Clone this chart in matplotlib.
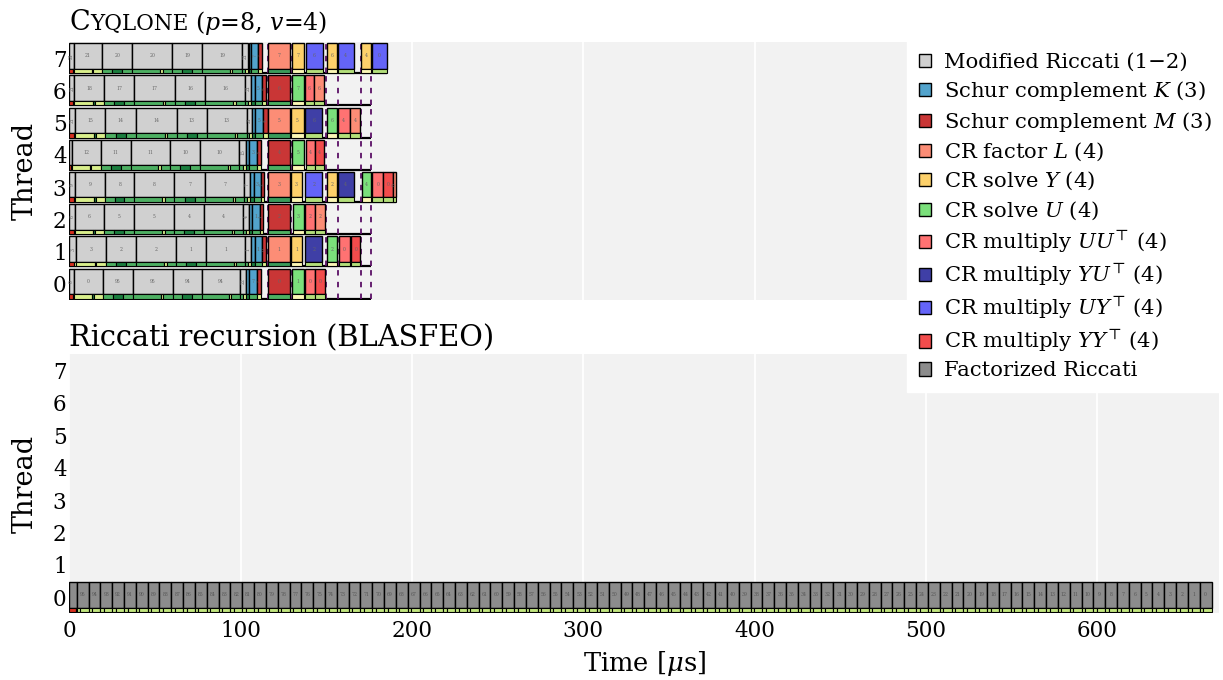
import matplotlib
matplotlib.use("Agg")
import matplotlib.pyplot as plt
from matplotlib.patches import Patch

plt.rcParams['font.family'] = ['DejaVu Serif']
plt.rcParams['mathtext.fontset'] = 'dejavuserif'

# ---------------- data ----------------
legend_labels = [
    "Modified Riccati (1\u22122)",
    "Schur complement $K$ (3)",
    "Schur complement $M$ (3)",
    "CR factor $L$ (4)",
    "CR solve $Y$ (4)",
    "CR solve $U$ (4)",
    "CR multiply $UU^{\\!\\top}$\u2009(4)",
    "CR multiply $YU^{\\!\\top}$\u2009(4)",
    "CR multiply $UY^{\\!\\top}$\u2009(4)",
    "CR multiply $YY^{\\!\\top}$\u2009(4)",
    "Factorized Riccati",
]
category_keys = ["MR", "SK", "SM", "CL", "CY", "CU", "UU", "YU", "UY", "YY", "FR"]
category_colors = ["#d0d0d0", "#52a3cc", "#c93636", "#fc8d76", "#fdd16b",
                   "#7be07b", "#ff7272", "#3f3fa6", "#6464f8", "#f24c4c", "#8c8c8c"]

# (start us, end us, category, label)
thread7_segments = [
    (0, 2.6, "MR", "21"), (2.6, 19.3, "MR", "21"), (19.3, 36.8, "MR", "20"), (36.8, 60.2, "MR", "20"),
    (60.2, 77.7, "MR", "19"), (77.7, 100.5, "MR", "19"), (100.5, 104.2, "MR", "21"),
    (104.7, 106.3, "SK", ""), (106.3, 110.0, "SK", "7"), (110.0, 112.4, "SM", "7"),
    (116.2, 128.5, "CL", "7"), (130.1, 136.9, "CY", "7"), (137.9, 148.0, "UY", "6"),
    (150.3, 156.2, "CY", "6"), (156.9, 165.9, "UY", "4"), (170.4, 176.2, "CY", "4"),
    (176.8, 185.4, "UY", "0"),
]
thread6_segments = [
    (0, 2.7, "MR", "21"), (2.7, 20.4, "MR", "18"), (20.4, 38.0, "MR", "17"), (38.0, 61.7, "MR", "17"),
    (61.7, 79.3, "MR", "16"), (79.3, 102.6, "MR", "16"), (102.6, 106.1, "MR", "21"),
    (106.1, 108.1, "SK", ""), (108.1, 112.6, "SK", "5"), (112.6, 114.9, "SM", "5"),
    (116.2, 128.5, "SM", "6"), (130.1, 136.9, "CU", "7"), (137.8, 142.7, "UU", "6"),
    (142.7, 148.9, "CL", "6"),
]
thread5_segments = [
    (0, 3.3, "MR", "21"), (3.3, 21.0, "MR", "15"), (21.0, 39.0, "MR", "14"), (39.0, 62.7, "MR", "14"),
    (62.7, 80.3, "MR", "13"), (80.3, 103.6, "MR", "13"), (103.6, 106.7, "MR", "21"),
    (106.7, 108.6, "SK", ""), (108.6, 113.3, "SK", "5"), (113.3, 115.9, "SM", "4"),
    (116.2, 128.5, "CL", "5"), (129.4, 136.9, "CY", "5"), (137.8, 147.6, "YU", "6"),
    (150.6, 156.4, "CU", "6"), (156.8, 163.6, "UU", "4"), (163.6, 169.8, "CL", "4"),
]
thread4_segments = [
    (0, 1.4, "MR", ""), (1.4, 18.3, "MR", "12"), (18.3, 35.9, "MR", "11"), (35.9, 58.8, "MR", "11"),
    (58.8, 76.3, "MR", "10"), (76.3, 99.3, "MR", "10"), (99.3, 103.2, "MR", "15"),
    (103.2, 105.1, "SK", ""), (105.1, 109.5, "SK", "3"), (109.5, 111.6, "SM", "3"),
    (116.2, 128.5, "SM", "4"), (130.1, 136.9, "CU", "5"), (138.1, 143.5, "UU", "4"),
    (143.5, 148.9, "YY", "4"),
]
thread3_segments = [
    (0, 3.3, "MR", "9"), (3.3, 20.9, "MR", "9"), (20.9, 38.0, "MR", "8"), (38.0, 61.3, "MR", "8"),
    (61.3, 79.3, "MR", "7"), (79.3, 102.2, "MR", "7"), (102.2, 105.5, "MR", "7"),
    (105.5, 107.5, "SK", ""), (107.5, 111.6, "SK", "3"), (111.6, 113.9, "SM", "2"),
    (116.2, 128.5, "CL", "3"), (129.4, 135.9, "CY", "3"), (137.8, 147.6, "UY", "2"),
    (150.3, 156.2, "CY", "2"), (156.9, 165.9, "YU", "4"), (170.8, 176.2, "CU", "4"),
    (176.9, 183.1, "UU", "0"), (183.1, 188.9, "YY", "0"), (188.9, 190.6, "CL", "0"),
]
thread2_segments = [
    (0, 3.3, "MR", "6"), (3.3, 20.3, "MR", "6"), (20.3, 38.0, "MR", "5"), (38.0, 61.3, "MR", "5"),
    (61.3, 78.7, "MR", "4"), (78.7, 101.6, "MR", "4"), (101.6, 104.8, "MR", "4"),
    (104.8, 106.7, "SK", ""), (106.7, 111.0, "SK", "1"), (111.0, 113.0, "SM", "1"),
    (116.2, 128.5, "SM", "2"), (130.6, 136.9, "CU", "3"), (137.8, 143.5, "UU", "2"),
    (143.5, 149.3, "CL", "2"),
]
thread1_segments = [
    (0, 3.9, "MR", "3"), (3.9, 21.4, "MR", "3"), (21.4, 39.0, "MR", "2"), (39.0, 62.3, "MR", "2"),
    (62.3, 79.8, "MR", "1"), (79.8, 102.8, "MR", "1"), (102.8, 106.1, "MR", "1"),
    (106.1, 108.1, "SK", ""), (108.1, 112.6, "SK", "1"), (112.6, 114.9, "SM", "0"),
    (116.2, 128.5, "CL", "1"), (129.4, 135.9, "CY", "1"), (137.8, 147.6, "YU", "2"),
    (150.6, 156.2, "CU", "2"), (157.1, 163.6, "UU", "0"), (164.5, 169.8, "YY", "0"),
]
thread0_segments = [
    (0, 2.7, "MR", "0"), (2.7, 19.5, "MR", "0"), (19.5, 37.0, "MR", "95"), (37.0, 60.4, "MR", "95"),
    (60.4, 77.3, "MR", "94"), (77.3, 99.7, "MR", "94"), (99.7, 103.2, "MR", "22"),
    (103.2, 105.1, "SK", ""), (105.1, 109.5, "SK", "7"), (109.5, 112.0, "SM", "7"),
    (116.2, 128.5, "SM", "0"), (130.0, 136.9, "CU", "1"), (137.8, 143.5, "UU", "0"),
    (143.5, 149.3, "YY", "0"),
]
thread_end_times = [176.2, 176.2, 176.2, 190.6, 176.2, 176.2, 176.2, 185.4]
barrier_times = [116.0, 129.2, 149.9, 156.7, 170.2, 176.2]

riccati_first_block = (0.0, 4.3)
riccati_durations = [
    6.9, 6.9, 6.9, 6.9, 6.9, 6.9, 6.9, 6.9, 6.9, 6.9, 6.9, 6.9, 6.9, 6.9, 6.9, 6.9,
    6.9, 6.9, 6.9, 6.9, 6.9, 6.9, 6.9, 6.9, 6.9, 6.9, 6.9, 6.9, 6.9, 6.9, 6.9, 6.9,
    6.9, 6.9, 6.9, 6.9, 6.9, 6.9, 6.9, 6.9, 6.9, 6.9, 6.9, 6.9, 6.9, 6.9, 6.9, 6.9,
    6.9, 6.9, 6.9, 6.9, 6.9, 6.9, 6.9, 6.9, 6.9, 6.9, 6.9, 6.9, 6.9, 6.9, 6.9, 6.9,
    6.9, 6.9, 6.9, 6.9, 6.9, 6.9, 6.9, 6.9, 6.9, 6.9, 6.9, 6.9, 6.9, 6.9, 6.9, 6.9,
    6.9, 6.9, 6.9, 6.9, 6.9, 6.9, 6.9, 6.9, 6.9, 6.9, 6.9, 6.9, 6.9, 6.9, 6.9, 6.9,
]
riccati_labels = [str(i) for i in range(95, -1, -1)]

x_ticks = [0, 100, 200, 300, 400, 500, 600]
threads = [0, 1, 2, 3, 4, 5, 6, 7]

# ---------------- styling ----------------
color_of = dict(zip(category_keys, category_colors))
strip_colors = {"red": "#d7301f", "pale": "#d9ef8b", "green": "#4daf62", "dark": "#1a7d3e",
                "yellow": "#fbf7b5", "light": "#b3df7a", "mid": "#3a9a5a", "rg": "#c2e67f"}
BG = "#f2f2f2"
MAIN_LO, MAIN_H = -0.32, 0.79
STRIP_LO, STRIP_H = -0.46, 0.14
LW = 1.0


def strip_pattern(cat, idx, dur):
    if cat == "MR":
        if idx == 0:
            return [(0, 0.75, "red"), (0.75, 1, "pale")]
        if idx == 1:
            return [(0, 0.62, "pale"), (0.62, 0.68, "dark"), (0.68, 1, "pale")]
        if idx in (2, 4):
            return [(0, 0.33, "green"), (0.33, 0.66, "dark"), (0.66, 1, "green")]
        if idx in (3, 5):
            return [(0, 0.7, "green"), (0.7, 0.76, "pale"), (0.76, 1, "green")]
        return [(0, 0.5, "green"), (0.5, 1, "pale")]
    if cat == "SK":
        return [(0, 1, "dark" if dur < 2.5 else "green")]
    if cat == "SM":
        return [(0, 1, "pale" if dur < 5 else "green")]
    if cat == "CL":
        return [(0, 1, "mid" if dur > 8 else "light")]
    if cat in ("CY", "CU"):
        return [(0, 1, "yellow")]
    return [(0, 1, "light")]


fig = plt.figure(figsize=(12.23, 6.8), dpi=100)
ax_top = fig.add_axes([0.0567, 0.559, 0.9400, 0.379])
ax_bot = fig.add_axes([0.0567, 0.098, 0.9400, 0.381])

for ax in (ax_top, ax_bot):
    ax.set_facecolor(BG)
    for s in ax.spines.values():
        s.set_visible(False)
    ax.set_xlim(0, 671)
    ax.set_ylim(-0.5, 7.5)
    ax.set_xticks(x_ticks)
    ax.set_yticks(threads)
    ax.set_yticklabels([str(t) for t in threads], fontsize=15.5)
    ax.tick_params(axis="both", length=0)
    ax.tick_params(axis="y", pad=2)
    ax.grid(axis="x", color="white", lw=1.3, zorder=0)
    ax.set_axisbelow(True)
    ax.set_ylabel("Thread", fontsize=19.5, labelpad=10)

ax_top.tick_params(axis="x", labelbottom=False)
ax_bot.tick_params(axis="x", labelsize=15.5, pad=5)
ax_bot.set_xlabel("Time [$\\mu$s]", fontsize=18.5, labelpad=5)


def draw_segment(ax, y, start, end, color, label, strips, lblcolor="#666666"):
    w = end - start
    ax.barh(y + MAIN_LO, w, left=start, height=MAIN_H, align="edge", color=color,
            edgecolor="black", linewidth=LW, zorder=3)
    for f0, f1, sc in strips:
        ax.barh(y + STRIP_LO, w * (f1 - f0), left=start + w * f0, height=STRIP_H, align="edge",
                color=strip_colors[sc], edgecolor="black", linewidth=LW * 0.8, zorder=3)
    if label:
        rot = 90 if w < 4 else 0
        ax.text(start + w / 2, y + MAIN_LO + MAIN_H / 2, label, fontsize=3.3, color=lblcolor,
                ha="center", va="center", rotation=rot, zorder=4)


all_threads = [thread0_segments, thread1_segments, thread2_segments, thread3_segments,
               thread4_segments, thread5_segments, thread6_segments, thread7_segments]

for th, segs in zip(threads, all_threads):
    end = thread_end_times[th]
    ax_top.hlines(th + STRIP_LO, 0, end, color="black", lw=1.6, zorder=2)
    ax_top.vlines(barrier_times, th + STRIP_LO, th + MAIN_LO + MAIN_H, colors="#5b0f66",
                  linestyles=(0, (3, 3.5)), lw=1.3, zorder=2)
    mr_idx = 0
    for (s, e, cat, lbl) in segs:
        idx = mr_idx if cat == "MR" else -1
        if cat == "MR":
            mr_idx += 1
        draw_segment(ax_top, th, s, e, color_of[cat], lbl, strip_pattern(cat, idx, e - s))

# bottom: factorized Riccati (sequential)
s0, e0 = riccati_first_block
draw_segment(ax_bot, 0, s0, e0, color_of["FR"], "", [(0, 0.9, "red"), (0.9, 1, "rg")])
t = e0
for d, lbl in zip(riccati_durations, riccati_labels):
    draw_segment(ax_bot, 0, t, t + d, color_of["FR"], lbl,
                 [(0, 0.3, "rg"), (0.3, 1, "rg")], lblcolor="#555555")
    t += d

# titles
ax_bot.text(0, 1 + 8 / 260, "Riccati recursion (BLASFEO)", transform=ax_bot.transAxes,
            fontsize=20.7, ha="left", va="baseline")

fig.canvas.draw()
renderer = fig.canvas.get_renderer()
ty = 1 + 12 / 258
t1 = ax_top.text(0, ty, "C", transform=ax_top.transAxes, fontsize=19.5, ha="left", va="baseline")
fig.canvas.draw()
bb = t1.get_window_extent(renderer)
x2 = ax_top.transAxes.inverted().transform((bb.x1, bb.y0))[0]
t2 = ax_top.text(x2, ty, "YQLONE", transform=ax_top.transAxes, fontsize=15.5, ha="left", va="baseline")
fig.canvas.draw()
bb = t2.get_window_extent(renderer)
x3 = ax_top.transAxes.inverted().transform((bb.x1, bb.y0))[0]
ax_top.text(x3, ty, " ($p$=8, $v$=4)", transform=ax_top.transAxes, fontsize=17, ha="left", va="baseline")

# legend
handles = [Patch(facecolor=c, edgecolor="black", linewidth=1.0) for c in category_colors]
fig.legend(handles, legend_labels, loc="upper right", bbox_to_anchor=(1.0, 1 - 41 / 680),
           fontsize=15.2, frameon=True, facecolor="white", edgecolor="white", framealpha=1,
           fancybox=False, handlelength=0.58, handleheight=0.58, handletextpad=0.6,
           labelspacing=0.33, borderpad=0.55, borderaxespad=0)

fig.savefig("out.png", dpi=100)
